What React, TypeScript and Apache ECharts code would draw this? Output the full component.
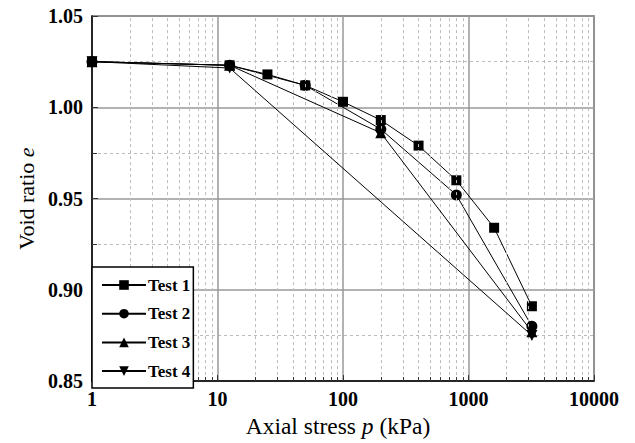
import React, { useEffect, useRef } from "react";
import * as echarts from "echarts";

const seriesNames = ["Test 1", "Test 2", "Test 3", "Test 4"];
const symbols = ["rect", "circle", "triangle", "path://M0,0 L10,0 L5,10 Z"];
const symbolSizes = [10, 11, 11, 11];

const test1X = [1, 12.5, 25, 50, 100, 200, 400, 800, 1600, 3200];
const test1Y = [1.025, 1.023, 1.018, 1.012, 1.003, 0.993, 0.979, 0.96, 0.934, 0.891];
const test2X = [1, 12.5, 50, 200, 800, 3200];
const test2Y = [1.025, 1.023, 1.012, 0.988, 0.952, 0.88];
const test3X = [1, 12.5, 200, 3200];
const test3Y = [1.025, 1.023, 0.986, 0.877];
const test4X = [1, 12.5, 3200];
const test4Y = [1.025, 1.0215, 0.875];

const xTicks = [1, 10, 100, 1000, 10000];
const minorMultipliers = [2, 3, 4, 5, 6, 7, 8, 9];

const FONT = "Liberation Serif";

export default function App() {
  const ref = useRef<HTMLDivElement>(null);
  useEffect(() => {
    if (!ref.current) return;
    const chart = echarts.init(ref.current, undefined, { renderer: "svg" });
    const xs = [test1X, test2X, test3X, test4X];
    const ys = [test1Y, test2Y, test3Y, test4Y];

    const minorVals: number[] = [];
    for (let d = 0; d < xTicks.length - 1; d++) {
      for (const m of minorMultipliers) minorVals.push(xTicks[d] * m);
    }
    const yMin = 0.85;
    const tickLen = 0.0022;

    const series: any[] = [
      {
        name: "_grid",
        type: "line",
        data: [],
        silent: true,
        z: 1,
        markLine: {
          silent: true,
          symbol: ["none", "none"],
          label: { show: false },
          animation: false,
          lineStyle: { type: [3, 3], color: "#bbb", width: 1 },
          data: [
            ...minorVals.map((v) => ({ xAxis: v })),
            ...minorVals.map((v) => [
              { coord: [v, yMin], lineStyle: { type: "solid", color: "#333", width: 1 } },
              { coord: [v, yMin + tickLen] },
            ]),
          ],
        },
      },
    ];
    seriesNames.forEach((name, i) => {
      series.push({
        name,
        type: "line",
        data: xs[i].map((x, j) => [x, ys[i][j]]),
        symbol: symbols[i],
        symbolSize: symbolSizes[i],
        showAllSymbol: true,
        lineStyle: { color: "#000", width: 1 },
        itemStyle: { color: "#000", borderColor: "#000", borderWidth: 0, opacity: 1 },
        z: 3 + i,
      });
    });

    chart.setOption({
      animation: false,
      grid: {
        left: 92,
        right: 41,
        top: 16,
        bottom: 55,
        show: true,
        borderColor: "#555",
        borderWidth: 1.5,
        backgroundColor: "transparent",
      },
      legend: {
        data: seriesNames,
        orient: "vertical",
        left: 92,
        top: 267,
        backgroundColor: "#fff",
        borderColor: "#000",
        borderWidth: 1.5,
        borderRadius: 0,
        padding: [8, 3, 7, 9],
        itemWidth: 44,
        itemHeight: 12,
        itemGap: 8.7,
        textStyle: {
          fontFamily: FONT,
          fontWeight: "bold",
          fontSize: 17,
          color: "#000",
          lineHeight: 20,
          padding: [0, 0, 0, -3],
        },
        z: 10,
      },
      xAxis: {
        type: "log",
        logBase: 10,
        min: 1,
        max: 10000,
        name: "Axial stress {i|p} (kPa)",
        nameLocation: "middle",
        nameGap: 25,
        nameTextStyle: {
          fontFamily: FONT,
          fontSize: 23.5,
          color: "#000",
          padding: [0, 10, 0, 0],
          rich: { i: { fontFamily: FONT, fontSize: 23.5, fontStyle: "italic", color: "#000" } },
        },
        axisLine: { show: true, lineStyle: { color: "#000", width: 1.5 } },
        axisTick: { show: true, inside: true, length: 6, lineStyle: { color: "#333" } },
        axisLabel: {
          fontFamily: FONT,
          fontWeight: "bold",
          fontSize: 20,
          color: "#000",
          margin: 8,
          formatter: (v: number) => String(Math.round(v)),
        },
        splitLine: { show: true, lineStyle: { color: "#999", width: 1.5 } },
        minorTick: { show: false },
        minorSplitLine: { show: false },
      },
      yAxis: {
        type: "value",
        min: 0.85,
        max: 1.05,
        interval: 0.05,
        name: "Void ratio {i|e}",
        nameLocation: "middle",
        nameGap: 54,
        nameTextStyle: {
          fontFamily: FONT,
          fontSize: 22,
          color: "#000",
          rich: { i: { fontFamily: FONT, fontSize: 22, fontStyle: "italic", color: "#000" } },
        },
        axisLine: { show: true, lineStyle: { color: "#000", width: 1.5 } },
        axisTick: { show: true, inside: true, length: 6, lineStyle: { color: "#333" } },
        minorTick: { show: true, splitNumber: 2, length: 5, lineStyle: { color: "#333" } },
        axisLabel: {
          fontFamily: FONT,
          fontWeight: "bold",
          fontSize: 20,
          color: "#000",
          margin: 9,
          formatter: (v: number) => v.toFixed(2),
        },
        splitLine: { show: true, lineStyle: { color: "#999", width: 1.5 } },
        minorSplitLine: { show: true, lineStyle: { color: "#bbb", type: [3, 3], width: 1 } },
      },
      series,
    });
    return () => chart.dispose();
  }, []);
  return <div ref={ref} style={{ width: 635, height: 443, position: "absolute", left: 0, top: 0 }} />;
}
